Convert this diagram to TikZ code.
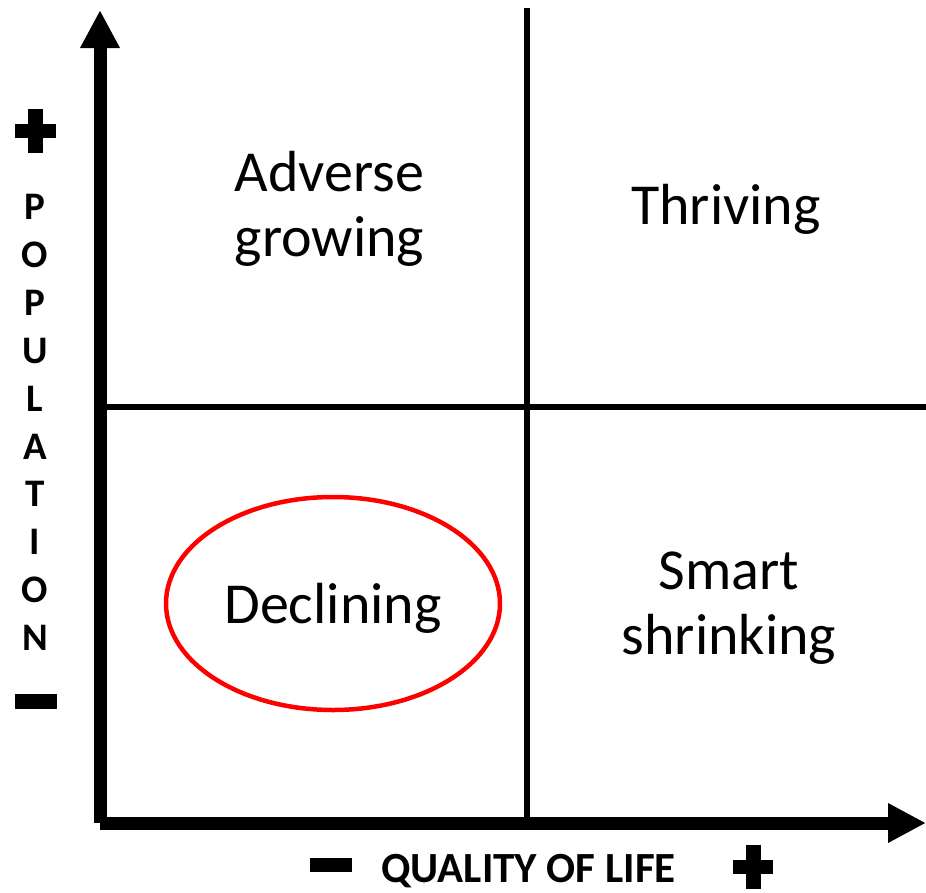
\documentclass[tikz,border=0pt]{standalone}
\usepackage{fontspec}
\setmainfont{Carlito}
\usepackage{tikz}
\usetikzlibrary{arrows.meta, shapes.geometric}

\begin{document}
\begin{tikzpicture}[
  x=1pt, y=-1pt,
  axisline/.style={line width=13pt, -{Triangle[length=38pt, width=37pt]}},
  divider/.style={line width=6.5pt},
  quadrant/.style={align=center, inner sep=0pt, font=\fontsize{58}{65}\selectfont},
  axislabel/.style={inner sep=0pt, font=\bfseries},
  minussign/.style={rectangle, fill=black, inner sep=0pt,
    minimum width=42pt, minimum height=15pt},
  plussign/.style={rectangle, inner sep=0pt,
    minimum width=41pt, minimum height=44pt,
    path picture={
      \fill ([yshift=-7pt]path picture bounding box.west) rectangle ([yshift=7pt]path picture bounding box.east);
      \fill ([xshift=-7.5pt]path picture bounding box.south) rectangle ([xshift=7.5pt]path picture bounding box.north);
    }},
]
\useasboundingbox (0,0) rectangle (926,892);

% --- Axes ---
\coordinate (origin) at (100,823);
\coordinate (ytip) at (100,10);
\coordinate (xtip) at (926,823);
\draw[axisline] (origin) -- (ytip);
\draw[axisline] (origin) -- (xtip);

% --- Quadrant dividers ---
\coordinate (vtop) at (527,8);
\coordinate (vbot) at (527,822);
\coordinate (hleft) at (100,407);
\coordinate (hright) at (926,407);
\draw[divider] (vtop) -- (vbot);
\draw[divider] (hleft) -- (hright);

% --- Quadrants ---
\node[quadrant, anchor=north] (ADV) at (329.5,151) {Adverse\\ growing};
\node[quadrant, anchor=base] (THR) at (726,224) {Thriving};
\node[quadrant, anchor=north] (SMA) at (729,552) {Smart\\ shrinking};
\node[quadrant, ellipse, draw=red, line width=4.5pt, text depth=0pt,
  minimum width=334pt, minimum height=213pt] (DEC) at (333,603.5) {Declining};

% --- Axis labels ---
\node[axislabel, align=center, anchor=north,
  font=\fontsize{39}{47.9}\selectfont\bfseries] (POP) at (35,194)
  {P\\ O\\ P\\ U\\ L\\ A\\ T\\ I\\ O\\ N};
\node[axislabel, anchor=base, font=\fontsize{43}{50}\selectfont\bfseries] (QOL) at (528.5,882)
  {QUALITY OF LIFE};

% --- Signs ---
\node[plussign] (YPLUS) at (35.5,131) {};
\node[minussign] (YMINUS) at (36,701) {};
\node[minussign, minimum height=14pt] (XMINUS) at (331,865) {};
\node[plussign, minimum width=40pt] (XPLUS) at (753,867) {};

\end{tikzpicture}
\end{document}
